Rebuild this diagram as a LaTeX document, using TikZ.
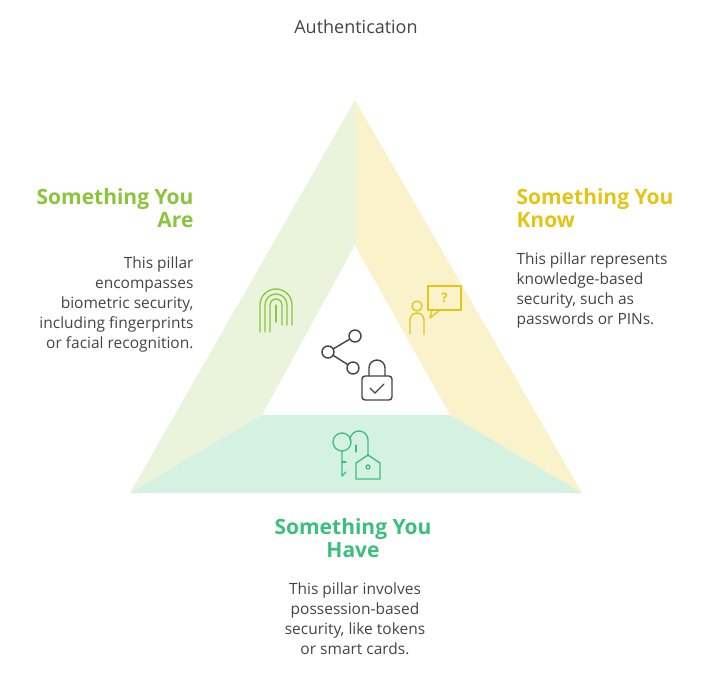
\documentclass[tikz,border=0pt]{standalone}
\usepackage{fontspec}
\setmainfont{Open Sans}
\usetikzlibrary{positioning}
\definecolor{arecol}{HTML}{8CC43C}
\definecolor{knowcol}{HTML}{E3C514}
\definecolor{havecol}{HTML}{3CBF7C}
\definecolor{txtcol}{HTML}{444444}
\tikzset{
  head/.style={font=\bfseries\fontsize{21}{23.5}\selectfont, align=#1},
  body/.style={font=\fontsize{15.5}{20}\selectfont, text=txtcol, align=#1},
}
\begin{document}
\begin{tikzpicture}[x=1pt,y=-1pt]
    \useasboundingbox (0,0) rectangle (713,674);
    %pillars
    \fill[arecol!18] (355,100) -- (355,245) -- (262,415) -- (130,493) -- cycle;
    \fill[knowcol!22] (355,100) -- (582,493) -- (450,415) -- (355,245) -- cycle;
    \fill[havecol!22] (130,493) -- (582,493) -- (450,415) -- (262,415) -- cycle;
    %title
    \node[font=\fontsize{18}{20}\selectfont, text=txtcol] (title) at (356,27) {Authentication};
    %texts
    \node[head=right, text=arecol, anchor=north east] (areh) at (197,185) {Something You\\Are};
    \node[body=right, anchor=north east] (aret) at (197,253) {This pillar\\encompasses\\biometric security,\\including fingerprints\\or facial recognition.};
    \node[head=left, text=knowcol, anchor=north west] (knowh) at (513,185) {Something You\\Know};
    \node[body=left, anchor=north west] (knowt) at (513,249) {This pillar represents\\knowledge-based\\security, such as\\passwords or PINs.};
    \node[head=center, text=havecol, anchor=north] (haveh) at (353,515) {Something You\\Have};
    \node[body=center, anchor=north] (havet) at (355,579) {This pillar involves\\possession-based\\security, like tokens\\or smart cards.};
    %fingerprint
    \begin{scope}[arecol, line width=1.3pt, line cap=round]
      \foreach \r in {6,11,16} {
        \draw (276-\r,332) -- (276-\r,305) arc (180:360:\r) -- (276+\r,325);}
      \draw (276,322) -- (276,305);
    \end{scope}
    %person and question
    \begin{scope}[knowcol, line width=1.3pt, line cap=round, line join=round]
      \draw (417,306) circle (5);
      \draw (410,334) -- (410,320) arc (180:360:7) -- (424,334);
      \draw (428,286) rectangle (461,310);
      \draw (432,310) -- (430,318) -- (440,310);
      \node[font=\bfseries\fontsize{13}{13}\selectfont] (qmark) at (444.5,298) {?};
    \end{scope}
    %share and lock
    \begin{scope}[txtcol, line width=1.4pt, line cap=round]
      \node[draw, circle, minimum size=12pt, inner sep=0pt] (nodeb) at (355,336) {};
      \node[draw, circle, minimum size=12pt, inner sep=0pt] (nodea) at (328,352) {};
      \node[draw, circle, minimum size=12pt, inner sep=0pt] (nodec) at (353,368) {};
      \draw (nodea) -- (nodeb);
      \draw (nodea) -- (nodec);
      \draw (369,376) -- (369,368) arc (180:360:8) -- (385,376);
      \draw[rounded corners=3pt] (362,376) rectangle (392,400);
      \draw (370,388) -- (375,393) -- (384,384);
    \end{scope}
    %keys
    \begin{scope}[havecol, line width=1.3pt, line cap=round, line join=round]
      \draw (342,442) circle (9);
      \draw (342,451) -- (342,476) -- (346,472);
      \draw (342,462) -- (346,462);
      \draw (350,440) arc (180:360:9) -- (368,456);
      \draw (356,445) -- (356,452);
      \draw (356,474) -- (356,463) -- (368,455) -- (380,463) -- (380,479) -- (356,479) -- (356,474);
      \draw (368,467) circle (2);
    \end{scope}
\end{tikzpicture}
\end{document}
